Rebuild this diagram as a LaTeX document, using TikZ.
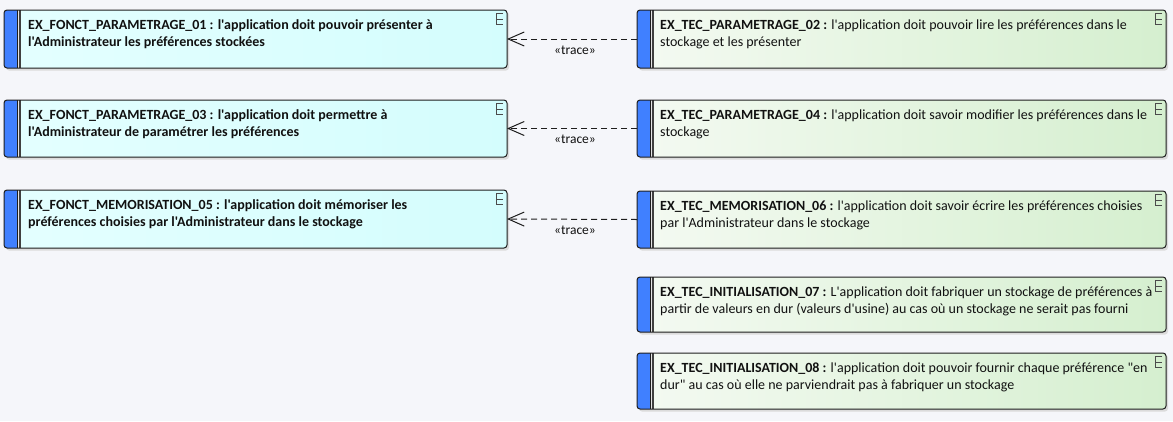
\documentclass[tikz,border=0pt]{standalone}
\usepackage{fontspec}
\newfontfamily\calib{Carlito}
\usetikzlibrary{arrows.meta}
\definecolor{bg}{HTML}{F5F6FA}
\definecolor{barblue}{HTML}{4080FF}
\definecolor{cyanL}{HTML}{E4FFFF}
\definecolor{cyanR}{HTML}{D4FDFD}
\definecolor{greenL}{HTML}{F4FAF2}
\definecolor{greenR}{HTML}{D5EFCF}
\definecolor{edge}{HTML}{1E1E1E}
\definecolor{ink}{HTML}{111111}
\tikzset{
  boxshape/.style={inner sep=0pt, outer sep=0pt, anchor=north west, rounded corners=3pt},
  fonct/.style={left color=cyanL, right color=cyanR},
  tec/.style={left color=greenL, right color=greenR},
  txt/.style={font=\calib\fontsize{14}{17}\selectfont, text=ink, align=left, anchor=base west, inner sep=0pt},
  tracearrow/.style={draw=edge, line width=1pt, dash pattern=on 6pt off 4pt, -{Straight Barb[length=16pt,width=14pt,line width=1pt]}},
  tracelabel/.style={font=\calib\fontsize{13.5}{15}\selectfont, text=ink, inner sep=0pt}
}
% #1 name, #2 x1, #3 y1, #4 x2, #5 y2, #6 style
\newcommand\reqbox[6]{%
  \fill[black!14, rounded corners=3pt] ({#2+2},{#3+2}) rectangle ({#4+2},{#5+2.5});
  \node[boxshape, #6, minimum width={(#4-#2)*1pt}, minimum height={(#5-#3)*1pt}] (#1) at (#2,#3) {};
  \fill[barblue] ({#2+13.8},#3) [rounded corners=3pt] -- (#2,#3) -- (#2,#5) [sharp corners] -- ({#2+13.8},#5) -- cycle;
  \fill[black!10] ({#2+14.3},#3) rectangle ({#2+15.4},#5);
  \draw[edge, line width=1pt] ({#2+13.8},#3) -- ({#2+13.8},#5);
  \draw[edge!85, line width=1.2pt] ({#2+16},#3) -- ({#2+16},#5);
  \draw[edge, line width=1pt, rounded corners=3pt] (#1.north west) rectangle (#1.south east);
  \draw[edge!80, line width=0.8pt] ({#4-4},{#3+3.5}) -- ({#4-11},{#3+3.5}) -- ({#4-11},{#3+14.5}) -- ({#4-4},{#3+14.5});
  \draw[edge!80, line width=0.8pt] ({#4-11},{#3+9}) -- ({#4-4},{#3+9});
}
\begin{document}
\begin{tikzpicture}[x=1pt,y=-1pt]
\fill[bg] (0,0) rectangle (1173,421);
\useasboundingbox (0,0) rectangle (1173,421);

\reqbox{l1}{4}{10}{507}{68}{fonct}
\reqbox{l2}{4}{100}{507}{157}{fonct}
\reqbox{l3}{4}{190}{507}{248}{fonct}
\reqbox{r1}{637}{10}{1166}{68}{tec}
\reqbox{r2}{637}{100}{1166}{157}{tec}
\reqbox{r3}{637}{191}{1166}{248}{tec}
\reqbox{r4}{637}{277}{1166}{332}{tec}
\reqbox{r5}{637}{353}{1166}{409}{tec}

\node[txt] (tl1) at (28,46) {\bfseries EX\_FONCT\_PARAMETRAGE\_01 : l'application doit pouvoir présenter à\\\bfseries l'Administrateur les préférences stockées};
\node[txt] (tl2) at (28,136) {\bfseries EX\_FONCT\_PARAMETRAGE\_03 : l'application doit permettre à\\\bfseries l'Administrateur de paramétrer les préférences};
\node[txt] (tl3) at (28,226) {\bfseries EX\_FONCT\_MEMORISATION\_05 : l'application doit mémoriser les\\\bfseries préférences choisies par l'Administrateur dans le stockage};

\node[txt] (tr1) at (660,46) {\textbf{EX\_TEC\_PARAMETRAGE\_02 :} l'application doit pouvoir lire les préférences dans le\\stockage et les présenter};
\node[txt] (tr2) at (660,136) {\textbf{EX\_TEC\_PARAMETRAGE\_04 :} l'application doit savoir modifier les préférences dans le\\stockage};
\node[txt] (tr3) at (660,227) {\textbf{EX\_TEC\_MEMORISATION\_06 :} l'application doit savoir écrire les préférences choisies\\par l'Administrateur dans le stockage};
\node[txt] (tr4) at (660,313) {\textbf{EX\_TEC\_INITIALISATION\_07 :} L'application doit fabriquer un stockage de préférences à\\partir de valeurs en dur (valeurs d'usine) au cas où un stockage ne serait pas fourni};
\node[txt] (tr5) at (660,389) {\textbf{EX\_TEC\_INITIALISATION\_08 :} l'application doit pouvoir fournir chaque préférence "en\\dur" au cas où elle ne parviendrait pas à fabriquer un stockage};

\draw[tracearrow] (r1.west) -- (l1.east) node[tracelabel, midway, xshift=3pt, yshift=-11pt] {«trace»};
\draw[tracearrow] (r2.west) -- (l2.east) node[tracelabel, midway, xshift=3pt, yshift=-11pt] {«trace»};
\draw[tracearrow] (r3.west) -- (l3.east) node[tracelabel, midway, xshift=3pt, yshift=-11pt] {«trace»};
\end{tikzpicture}
\end{document}
